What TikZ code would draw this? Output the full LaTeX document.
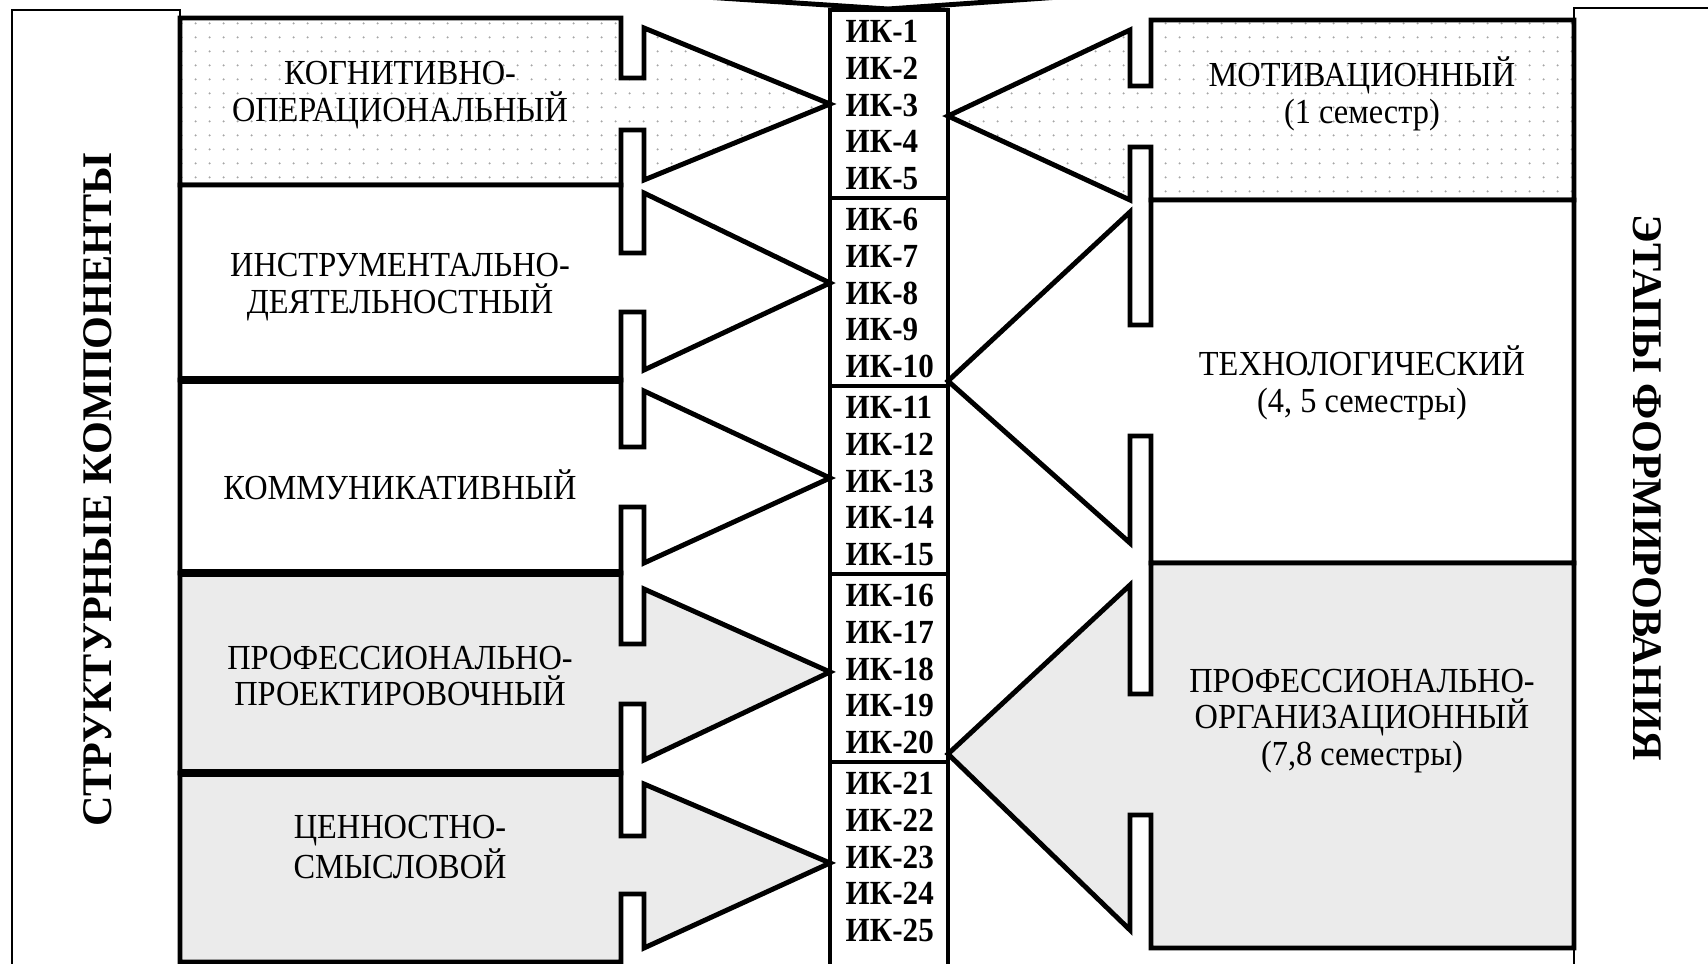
\documentclass[tikz,border=0pt]{standalone}
\usepackage{fontspec}
\IfFontExistsTF{LiberationSerif-Regular.ttf}{%
  \setmainfont{LiberationSerif}[Extension=.ttf, UprightFont=*-Regular, BoldFont=*-Bold, FakeStretch=0.92]
  \newfontfamily\titlefont{LiberationSerif}[Extension=.ttf, UprightFont=*-Regular, BoldFont=*-Bold]}{%
  \setmainfont{Liberation Serif}[FakeStretch=0.92]
  \newfontfamily\titlefont{Liberation Serif}}
\usetikzlibrary{patterns.meta}

\tikzset{
  callout/.style={draw=black, line width=1.4pt},
  dotfill/.style={pattern={Dots[distance=4pt,radius=0.35pt]}, pattern color=black!35},
  granite/.style={fill=black!8},
  seam/.style={line width=2.4pt},
  comptext/.style={align=center, inner sep=0pt, font=\fontsize{10}{10.4}\selectfont},
  iktext/.style={anchor=base west, inner sep=0pt, font=\fontsize{9.6}{10.4}\selectfont\bfseries},
  sidetitle/.style={inner sep=0pt, font=\titlefont\fontsize{12}{14}\selectfont\bfseries},
}

% body top, head top, shaft top, tip, shaft bottom, head bottom, body bottom
\newcommand{\leftcallout}[8]{%
  \draw[callout,#1] (180,#2) -- (621,#2) -- (621,#4) -- (644,#4) -- (644,#3) -- (830,#5)
    -- (644,#7) -- (644,#6) -- (621,#6) -- (621,#8) -- (180,#8) -- cycle;}
\newcommand{\rightcallout}[8]{%
  \draw[callout,#1] (1574,#2) -- (1151,#2) -- (1151,#4) -- (1130,#4) -- (1130,#3) -- (948,#5)
    -- (1130,#7) -- (1130,#6) -- (1151,#6) -- (1151,#8) -- (1574,#8) -- cycle;}

\begin{document}
\begin{tikzpicture}[x=0.01cm,y=-0.01cm]
	\useasboundingbox (0,0) rectangle (1708,964);
	% outer frames
	\draw[line width=0.6pt] (12,980) -- (12,10) -- (180,10) -- (180,980);
	\draw[line width=0.6pt] (1574,980) -- (1574,8) -- (1730,8);
	% left components
	\leftcallout{dotfill}{18}{28}{78}{104}{130}{180}{185}
	\leftcallout{fill=white}{185}{193}{253}{283}{312}{370}{380}
	\leftcallout{fill=white}{380}{391}{447}{478}{507}{563}{573}
	\leftcallout{granite}{573}{589}{644}{672}{704}{760}{773}
	\leftcallout{granite}{773}{784}{836}{863}{894}{948}{962}
	\draw[seam] (180,380) -- (621,380);
	\draw[seam] (180,573) -- (621,573);
	\draw[seam] (180,773) -- (621,773);
	% right stages
	\rightcallout{dotfill}{20}{30}{86}{116}{147}{200}{200}
	\rightcallout{fill=white}{200}{212}{325}{381}{436}{543}{563}
	\rightcallout{granite}{563}{585}{694}{754}{815}{930}{948}
	% column of competences
	\draw[line width=1.4pt] (705,-3) -- (888,9) -- (1060,-3);
	\draw[line width=1.2pt] (830,980) -- (830,10) -- (948,10) -- (948,980);
	\foreach \k in {1,...,4}
		\draw[line width=0.9pt] (830,{10+188*\k}) -- (948,{10+188*\k});
	\foreach \g in {0,...,4}{
		\foreach \r in {1,...,5}{
			\pgfmathtruncatemacro{\n}{5*\g+\r}
			\node[iktext] (ik\n) at (845,{43+188*\g+36.6*(\r-1)}) {ИК-\n};
		}
	}
	\node[comptext] (kog) at (400,95) {КОГНИТИВНО-\\ОПЕРАЦИОНАЛЬНЫЙ};
	\node[comptext] (instr) at (400,287) {ИНСТРУМЕНТАЛЬНО-\\ДЕЯТЕЛЬНОСТНЫЙ};
	\node[comptext] (komm) at (400,485) {КОММУНИКАТИВНЫЙ};
	\node[comptext] (proekt) at (400,676) {ПРОФЕССИОНАЛЬНО-\\ПРОЕКТИРОВОЧНЫЙ};
	\node[comptext] (cenn) at (400,847) {ЦЕННОСТНО-\\СМЫСЛОВОЙ};
	\node[comptext] (motiv) at (1362,94) {МОТИВАЦИОННЫЙ\\(1 семестр)};
	\node[comptext] (tehn) at (1362,383) {ТЕХНОЛОГИЧЕСКИЙ\\(4, 5 семестры)};
	\node[comptext] (org) at (1362,721) {ПРОФЕССИОНАЛЬНО-\\ОРГАНИЗАЦИОННЫЙ\\(7,8 семестры)};
	\node[sidetitle,rotate=90] (struct) at (98,490) {СТРУКТУРНЫЕ КОМПОНЕНТЫ};
	\node[sidetitle,rotate=-90] (etap) at (1647,488) {ЭТАПЫ ФОРМИРОВАНИЯ};
\end{tikzpicture}
\end{document}
